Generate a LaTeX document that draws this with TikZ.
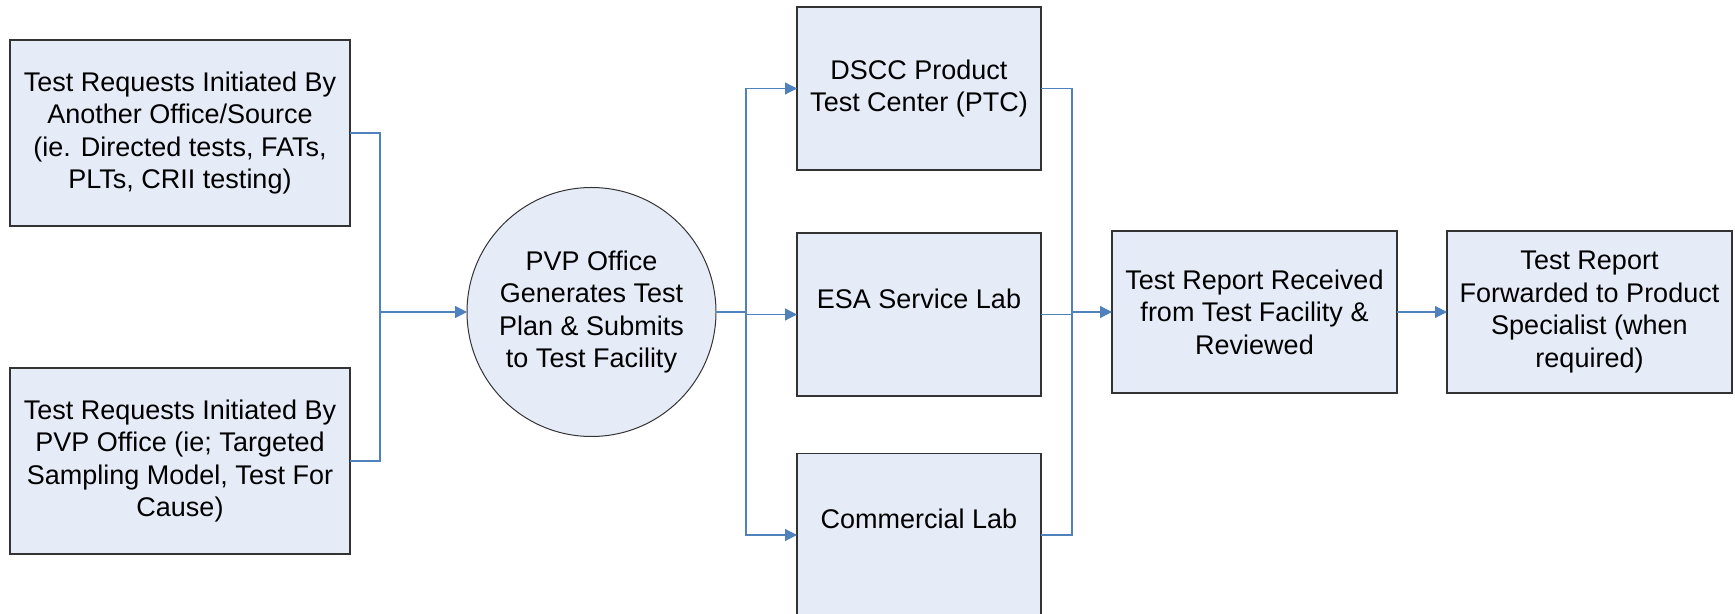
\documentclass[tikz,border=0pt]{standalone}
\usepackage{fontspec}
\setmainfont{Liberation Sans}
\usetikzlibrary{arrows.meta}
\usetikzlibrary{positioning}
\definecolor{boxfill}{HTML}{E6ECF7}
\definecolor{linkblue}{HTML}{4F81BD}
\tikzset{%
	box/.style={inner sep=0pt,outer sep=0pt,shape=rectangle,draw=black!80,fill=boxfill,line width=0.6pt,align=center},
	office/.style={inner sep=0pt,outer sep=0pt,shape=circle,draw=black!80,fill=boxfill,line width=0.5pt,align=center},
	link/.style={draw=linkblue,line width=0.6pt},
	flow/.style={link,-{Triangle[length=6pt,width=6pt]}},
}

\begin{document}
\begin{tikzpicture}[x=0.5pt,y=-0.5pt,font=\fontsize{13.5}{16.25}\selectfont]
			\useasboundingbox (0,0) rectangle (1735,614);
			
			%ZAHTEVKI
			\node[box, minimum width=170pt, minimum height=93pt] (reqA) at (180,133) {Test Requests Initiated By\\Another Office/Source\\(ie. Directed tests, FATs,\\PLTs, CRII testing)};
			\node[box, minimum width=170pt, minimum height=93pt] (reqB) at (180,461) {Test Requests Initiated By\\PVP Office (ie; Targeted\\Sampling Model, Test For\\Cause)};
			
			%PVP
			\node[office, minimum size=124.5pt] (pvp) at (591.5,312) {PVP Office\\Generates Test\\Plan \& Submits\\to Test Facility};
			
			%LABORATORIJI
			\node[box, minimum width=122pt, minimum height=81.5pt] (dscc) at (919,88.5) {DSCC Product\\Test Center (PTC)};
			\node[box, minimum width=122pt, minimum height=81.5pt] (esa) at (919,314.5) {ESA Service Lab\\\mbox{}};
			\node[box, minimum width=122pt, minimum height=81.5pt] (comm) at (919,535) {Commercial Lab\\\mbox{}};
			
			%POROCILO
			\node[box, minimum width=142.5pt, minimum height=81pt] (report) at (1254.5,312) {Test Report Received\\from Test Facility \&\\Reviewed};
			\node[box, minimum width=142.5pt, minimum height=81pt] (fwd) at (1589.5,312) {Test Report\\Forwarded to Product\\Specialist (when\\required)};
			
			%POVEZAVE
			\coordinate (join) at (380,312);
			\coordinate (split) at (746,312);
			\coordinate (merge) at (1072,312);
			\draw[link] (reqA.east) -| (join) |- (reqB.east);
			\draw[flow] (join) -- (pvp.west);
			\draw[link] (pvp.east) -- (split);
			\draw[flow] (split) |- (dscc.west);
			\draw[flow] (split) |- (esa.west);
			\draw[flow] (split) |- (comm.west);
			\draw[link] (dscc.east) -| (merge); %zgoraj
			\draw[link] (esa.east) -| (merge);
			\draw[link] (comm.east) -| (merge); %spodaj
			\draw[flow] (merge) -- (report.west);
			\draw[flow] (report.east) -- (fwd.west);
			
			\end{tikzpicture}
\end{document}
